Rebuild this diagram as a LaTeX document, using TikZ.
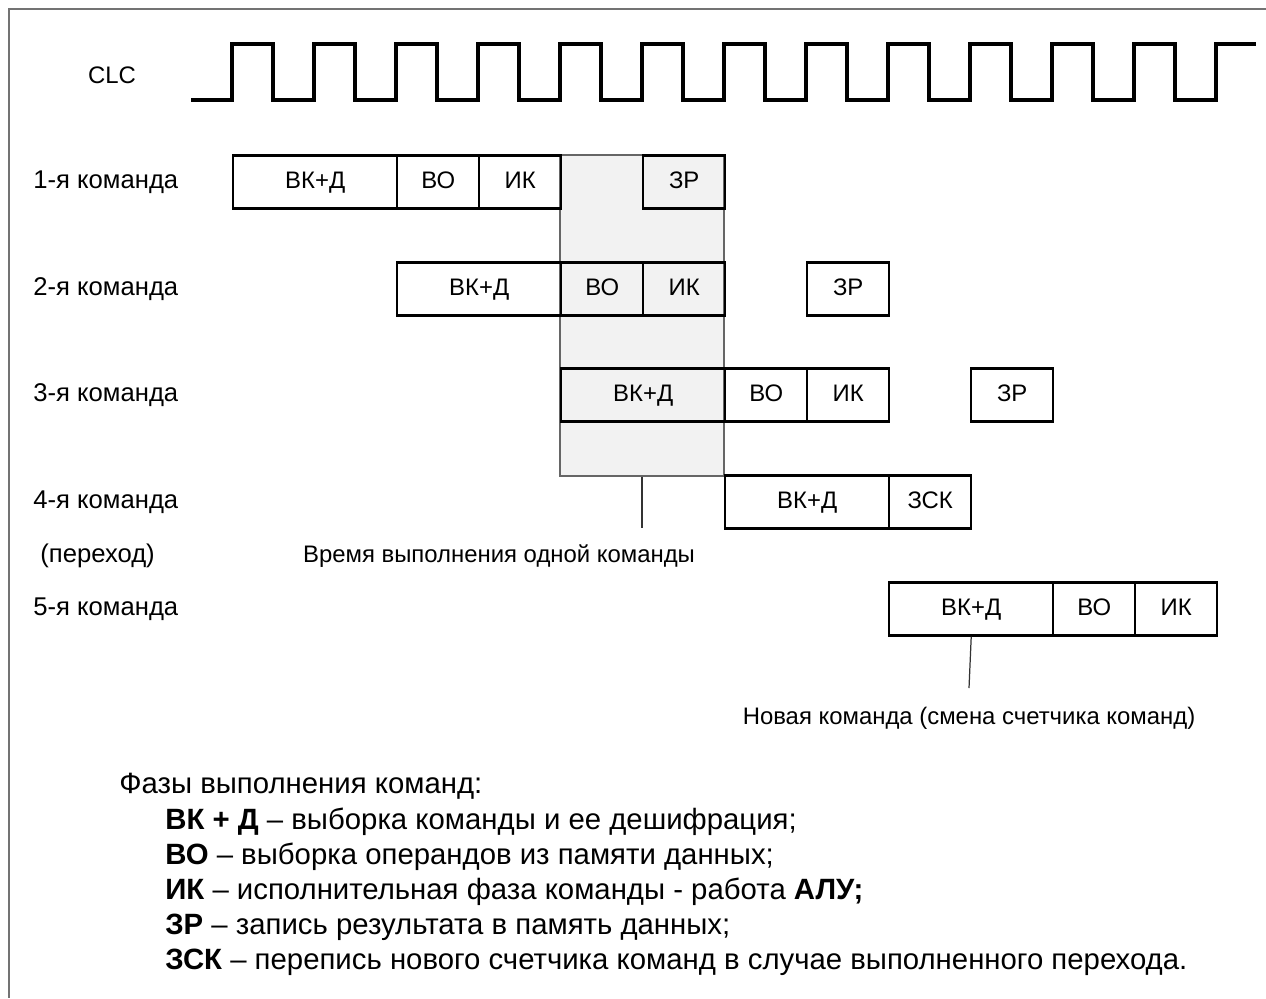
\documentclass[tikz,border=0pt]{standalone}
\usepackage{fontspec}
\setmainfont{Liberation Sans}
\usetikzlibrary{positioning,calc}

\begin{document}
\begin{tikzpicture}[x=0.02cm, y=-0.02cm,
        lbl/.style={font=\fontsize{13.6}{15}\selectfont, inner sep=0},
        rowlbl/.style={font=\fontsize{14.6}{16}\selectfont, inner sep=0, anchor=west},
        phase/.style={draw, line width=1.4pt, minimum height=1.06cm, inner sep=0, anchor=west, text height=0.72em, text depth=0em, font=\fontsize{13.6}{15}\selectfont},
        wide/.style={phase, minimum width=3.28cm},
        narrow/.style={phase, minimum width=1.64cm},
        clock/.style={line width=2.8pt},
        window/.style={draw=black!60, line width=0.7pt, fill=black!5, minimum width=3.28cm, minimum height=6.42cm, inner sep=0},
        legend/.style={font=\fontsize{16.7}{19}\selectfont, inner sep=0, anchor=west}]
        \useasboundingbox (0,0) rectangle (1266,998);
        % Draw frame
        \draw[black!55, line width=0.8pt] (1266,9) -- (9,9) -- (9,998);
        % Draw clock
        \node[lbl] (clc) at (112,75) {CLC};
        \draw[clock] (191,100) \foreach \k in {0,...,11} { -- ({232+82*\k},100) -- ({232+82*\k},44) -- ({273+82*\k},44) -- ({273+82*\k},100) } -- (1216,100) -- (1216,44) -- (1256,44);
        % Draw window of one command
        \node[window] (window) at (642,315.5) {};
        % Draw row labels
        \node[rowlbl] (r1) at (33,182) {1-я команда};
        \node[rowlbl] (r2) at (33,289) {2-я команда};
        \node[rowlbl] (r3) at (33,395) {3-я команда};
        \node[rowlbl] (r4) at (33,502) {4-я команда};
        \node[rowlbl] (jmp) at (40,556) {(переход)};
        \node[rowlbl] (r5) at (33,609) {5-я команда};
        % Draw phases
        \node[wide] (a1) at (232,182) {ВК+Д};
        \node[narrow] (b1) at (396,182) {ВО};
        \node[narrow] (c1) at (478,182) {ИК};
        \node[narrow] (d1) at (642,182) {ЗР};
        \node[wide] (a2) at (396,289) {ВК+Д};
        \node[narrow] (b2) at (560,289) {ВО};
        \node[narrow] (c2) at (642,289) {ИК};
        \node[narrow] (d2) at (806,289) {ЗР};
        \node[wide] (a3) at (560,395) {ВК+Д};
        \node[narrow] (b3) at (724,395) {ВО};
        \node[narrow] (c3) at (806,395) {ИК};
        \node[narrow] (d3) at (970,395) {ЗР};
        \node[wide] (a4) at (724,502) {ВК+Д};
        \node[narrow] (e4) at (888,502) {ЗСК};
        \node[wide] (a5) at (888,609) {ВК+Д};
        \node[narrow] (b5) at (1052,609) {ВО};
        \node[narrow] (c5) at (1134,609) {ИК};
        % Draw notes
        \node[lbl] (time) at (499,556) {Время выполнения одной команды};
        \coordinate (timeend) at (642,528);
        \draw[black!80, line width=0.7pt] (window.south) -- (timeend);
        \node[lbl] (newcmd) at (969,718) {Новая команда (смена счетчика команд)};
        \coordinate (newend) at (969,688);
        \draw[black!80, line width=0.7pt] (a5.south) -- (newend);
        % Draw legend
        \node[legend] (leg) at (119,786) {Фазы выполнения команд:};
        \node[legend] (leg1) at (165,822) {\textbf{ВК + Д} – выборка команды и ее дешифрация;};
        \node[legend] (leg2) at (165,857) {\textbf{ВО} – выборка операндов из памяти данных;};
        \node[legend] (leg3) at (165,892) {\textbf{ИК} – исполнительная фаза команды - работа \textbf{АЛУ;}};
        \node[legend] (leg4) at (165,927) {\textbf{ЗР} – запись результата в память данных;};
        \node[legend] (leg5) at (165,962) {\textbf{ЗСК} – перепись нового счетчика команд в случае выполненного перехода.};
    \end{tikzpicture}
\end{document}
